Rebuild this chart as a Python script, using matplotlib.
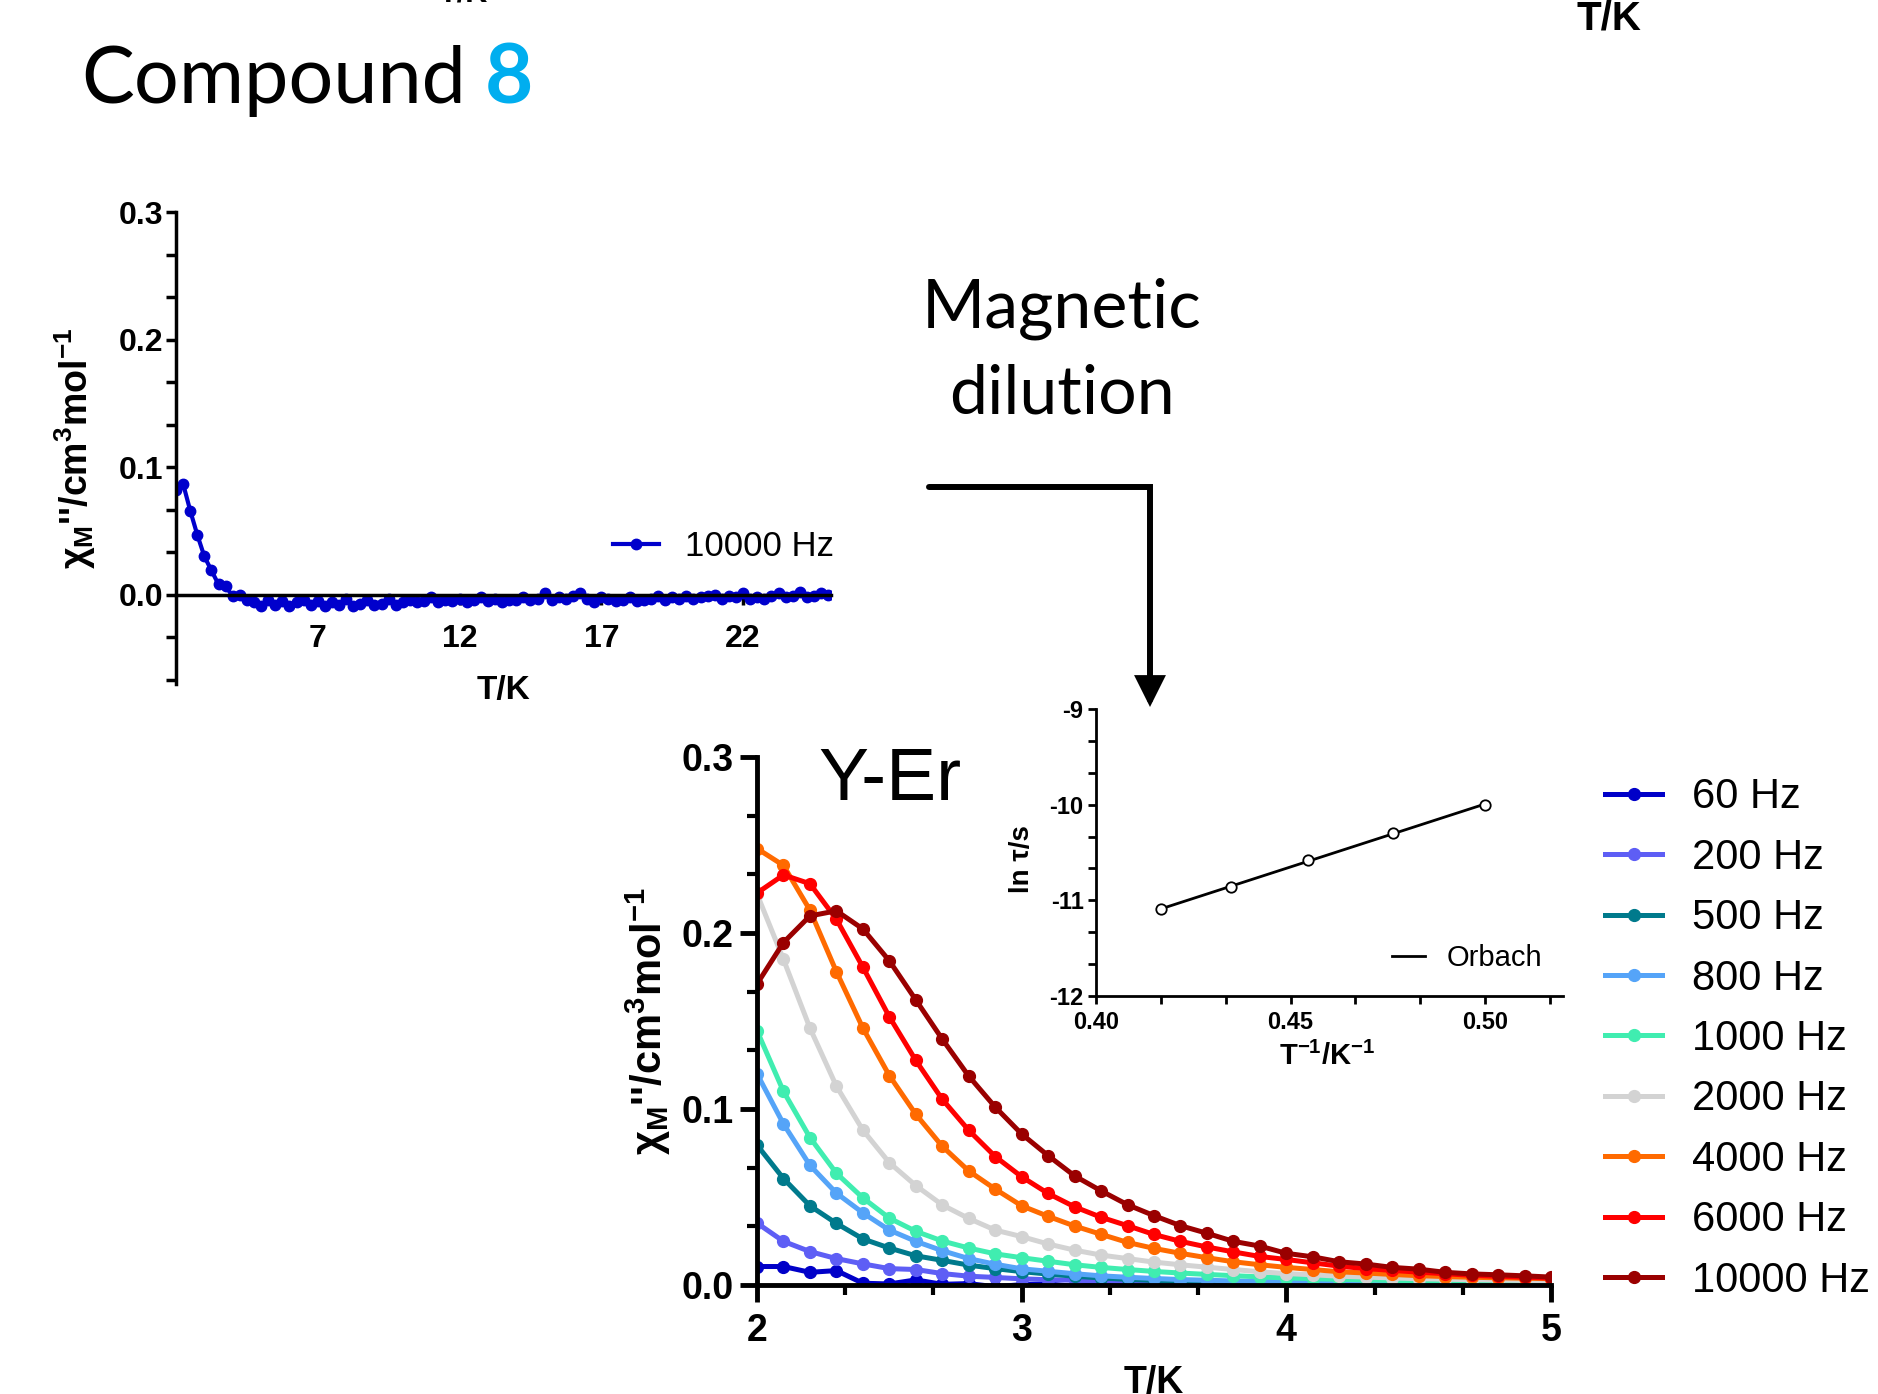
import numpy as np
import matplotlib
matplotlib.use("Agg")
import matplotlib.pyplot as plt
from matplotlib.patches import FancyArrowPatch
from matplotlib.path import Path
from matplotlib.ticker import MultipleLocator, FormatStrFormatter

plt.rcParams['font.family'] = ['Liberation Sans', 'DejaVu Sans']
plt.rcParams['axes.unicode_minus'] = False
plt.rcParams['mathtext.fontset'] = 'custom'
plt.rcParams['mathtext.rm'] = 'Liberation Sans'
plt.rcParams['mathtext.bf'] = 'Liberation Sans:bold'
plt.rcParams['mathtext.it'] = 'Liberation Sans:italic'

# ---- compound 8, chi'' at 10000 Hz (T from 2 K, 0.25 K steps)
chi_top = [0.082, 0.087, 0.066, 0.047, 0.030, 0.019, 0.008, 0.0065, -0.001, 0.000, -0.004, -0.006, -0.009,
           -0.004, -0.008, -0.005, -0.009, -0.006, -0.004, -0.008, -0.005, -0.009, -0.006, -0.008, -0.003,
           -0.009, -0.007, -0.004, -0.008, -0.007, -0.003, -0.008, -0.006, -0.004, -0.006, -0.005, -0.002,
           -0.006, -0.004, -0.005, -0.003,
           -0.006, -0.004, -0.002, -0.005, -0.003, -0.006, -0.004, -0.004, -0.002, -0.004, -0.003, 0.001,
           -0.004, -0.002, -0.003, -0.001, 0.001, -0.003, -0.006, -0.002, -0.003, -0.005, -0.004, -0.002,
           -0.005, -0.004, -0.003, -0.001, -0.004, -0.002, -0.003, -0.001, -0.003, -0.002, -0.001, 0.000,
           -0.003, -0.001, -0.002, 0.001, -0.003, -0.002, -0.003, -0.001, 0.001, -0.002, -0.001, 0.002,
           -0.002, -0.001, 0.001, 0.000]
T_top = 2 + 0.25 * np.arange(len(chi_top))

# ---- Y-Er diluted sample, T = 2.0 ... 5.0 K
T_yer = np.round(np.arange(2.0, 5.01, 0.1), 1)
freqs = ["60 Hz", "200 Hz", "500 Hz", "800 Hz", "1000 Hz", "2000 Hz", "4000 Hz", "6000 Hz", "10000 Hz"]
colors = ["#0000C8", "#5E5EF5", "#007A8C", "#55A4F8", "#40EDB0", "#D3D3D3", "#FF6A00", "#FF0000", "#9A0000"]

chi_60 = [0.0105, 0.0105, 0.0072, 0.0082, 0.0010, 0.0006, 0.0029, 0.0004, 0.0008, -0.0010, 0.0002,
          0.0006, -0.0008, 0.0004, 0.0001, -0.0006, 0.0003, -0.0004, 0.0002, 0.0005, -0.0007, 0.0001,
          -0.0003, 0.0004, 0.0000, -0.0005, 0.0002, -0.0002, 0.0001, 0.0003, 0.0001]
chi_200 = [0.0352, 0.0248, 0.0190, 0.0150, 0.0120, 0.0093, 0.0088, 0.0065, 0.0050, 0.0043, 0.0035,
           0.0030, 0.0027, 0.0022, 0.0020, 0.0016, 0.0015, 0.0012, 0.0011, 0.0009, 0.0008, 0.0007,
           0.0006, 0.0005, 0.0004, 0.0003, 0.0003, 0.0002, 0.0003, 0.0002, 0.0002]
chi_500 = [0.0795, 0.0605, 0.0450, 0.0350, 0.0262, 0.0210, 0.0166, 0.0140, 0.0113, 0.0093, 0.0076,
           0.0062, 0.0050, 0.0040, 0.0032, 0.0026, 0.0022, 0.0019, 0.0016, 0.0013, 0.0011, 0.0010,
           0.0009, 0.0008, 0.0007, 0.0006, 0.0005, 0.0005, 0.0004, 0.0004, 0.0003]
chi_800 = [0.1200, 0.0915, 0.0680, 0.0522, 0.0410, 0.0312, 0.0248, 0.0195, 0.0150, 0.0118, 0.0092,
           0.0078, 0.0064, 0.0052, 0.0044, 0.0037, 0.0031, 0.0027, 0.0023, 0.0020, 0.0018, 0.0015,
           0.0013, 0.0012, 0.0010, 0.0009, 0.0008, 0.0007, 0.0006, 0.0006, 0.0005]
chi_1000 = [0.1445, 0.1100, 0.0838, 0.0635, 0.0495, 0.0380, 0.0305, 0.0250, 0.0210, 0.0177, 0.0155,
            0.0135, 0.0115, 0.0100, 0.0088, 0.0077, 0.0068, 0.0060, 0.0053, 0.0046, 0.0040, 0.0036,
            0.0032, 0.0029, 0.0026, 0.0024, 0.0022, 0.0020, 0.0019, 0.0018, 0.0017]
chi_2000 = [0.2222, 0.1850, 0.1460, 0.1130, 0.0880, 0.0695, 0.0565, 0.0455, 0.0378, 0.0312, 0.0275,
            0.0233, 0.0198, 0.0170, 0.0150, 0.0130, 0.0115, 0.0101, 0.0088, 0.0075, 0.0065, 0.0058,
            0.0050, 0.0045, 0.0040, 0.0036, 0.0033, 0.0030, 0.0028, 0.0026, 0.0025]
chi_4000 = [0.2480, 0.2384, 0.2130, 0.1780, 0.1460, 0.1190, 0.0970, 0.0788, 0.0648, 0.0545, 0.0450,
            0.0390, 0.0335, 0.0288, 0.0242, 0.0208, 0.0180, 0.0155, 0.0132, 0.0115, 0.0100, 0.0088,
            0.0075, 0.0068, 0.0060, 0.0053, 0.0048, 0.0044, 0.0041, 0.0038, 0.0036]
chi_6000 = [0.2227, 0.2330, 0.2280, 0.2078, 0.1806, 0.1524, 0.1276, 0.1055, 0.0879, 0.0730, 0.0615,
            0.0520, 0.0444, 0.0385, 0.0337, 0.0287, 0.0248, 0.0216, 0.0188, 0.0162, 0.0145, 0.0126,
            0.0107, 0.0093, 0.0083, 0.0073, 0.0064, 0.0055, 0.0049, 0.0044, 0.0039]
chi_10000 = [0.1710, 0.1946, 0.2097, 0.2126, 0.2023, 0.1842, 0.1620, 0.1397, 0.1187, 0.1011, 0.0858,
             0.0735, 0.0620, 0.0535, 0.0456, 0.0394, 0.0337, 0.0294, 0.0248, 0.0221, 0.0180, 0.0160,
             0.0132, 0.0119, 0.0100, 0.0090, 0.0072, 0.0063, 0.0058, 0.0052, 0.0045]
series = [chi_60, chi_200, chi_500, chi_800, chi_1000, chi_2000, chi_4000, chi_6000, chi_10000]

# ---- Arrhenius inset
inv_T = [0.4167, 0.4348, 0.4545, 0.4762, 0.5000]
ln_tau = [-11.09, -10.86, -10.58, -10.30, -10.00]

W, H = 1878, 1394
fig = plt.figure(figsize=(W / 100, H / 100), dpi=100)
fig.patch.set_facecolor("white")


def fbox(x0, y0, x1, y1):
    # pixel box (origin top left) -> figure fraction rect
    return [x0 / W, 1 - y1 / H, (x1 - x0) / W, (y1 - y0) / H]


def fxy(x, y):
    return (x / W, 1 - y / H)


# ================= top left: compound 8 =================
ax1 = fig.add_axes(fbox(176, 212, 831, 684))
ax1.plot(T_top, chi_top, '-o', color="#0000CC", lw=3, ms=7.5, label="10000 Hz")
ax1.set_xlim(2, 25.1)
ax1.set_ylim(-0.07, 0.3)
for s in ['top', 'right']:
    ax1.spines[s].set_visible(False)
ax1.spines['bottom'].set_position(('data', 0))
ax1.spines['left'].set_linewidth(2.5)
ax1.spines['bottom'].set_linewidth(2.5)
ax1.set_xticks([7, 12, 17, 22])
ax1.yaxis.set_minor_locator(MultipleLocator(0.1 / 3))
ax1.set_yticks([0.0, 0.1, 0.2, 0.3])
ax1.yaxis.set_major_formatter(FormatStrFormatter('%.1f'))
ax1.tick_params(axis='both', which='both', direction='out', width=2.5, length=7)
ax1.tick_params(axis='x', pad=14)
ax1.tick_params(axis='y', pad=2)
for lab in ax1.get_xticklabels() + ax1.get_yticklabels():
    lab.set_fontsize(23)
    lab.set_fontweight('bold')
ax1.set_xlabel("T/K", fontsize=24, fontweight='bold')
ax1.xaxis.set_label_coords(0.5, 0.02)
ax1.set_ylabel("χ$_\\mathbf{M}$''/cm$^\\mathbf{3}$mol$^\\mathbf{-1}$", fontsize=27, fontweight='bold')
ax1.yaxis.set_label_coords(-0.119, 0.5)
ax1.legend(loc='center left', bbox_to_anchor=fxy(613, 547), bbox_transform=fig.transFigure,
           frameon=False, fontsize=25, handlelength=1.33, handletextpad=0.75,
           borderpad=0, borderaxespad=0)

# ================= main: Y-Er =================
ax2 = fig.add_axes(fbox(757, 757, 1551, 1285))
handles = []
for vals, c, lab in zip(series, colors, freqs):
    h, = ax2.plot(T_yer, vals, '-o', color=c, lw=3.6, ms=8.5, label=lab)
    handles.append(h)
ax2.set_xlim(2, 5)
ax2.set_ylim(0, 0.3)
for s in ['top', 'right']:
    ax2.spines[s].set_visible(False)
for s in ['left', 'bottom']:
    ax2.spines[s].set_linewidth(3.5)
ax2.xaxis.set_major_locator(MultipleLocator(1))
ax2.xaxis.set_minor_locator(MultipleLocator(1 / 3))
ax2.yaxis.set_major_locator(MultipleLocator(0.1))
ax2.yaxis.set_minor_locator(MultipleLocator(0.1 / 3))
ax2.yaxis.set_major_formatter(FormatStrFormatter('%.1f'))
ax2.tick_params(axis='both', which='major', direction='out', width=3.5, length=12, labelsize=27)
ax2.tick_params(axis='both', which='minor', direction='out', width=3, length=7)
ax2.tick_params(axis='x', pad=8)
ax2.tick_params(axis='y', pad=5)
for lab in ax2.get_xticklabels() + ax2.get_yticklabels():
    lab.set_fontweight('bold')
ax2.set_xlabel("T/K", fontsize=27, fontweight='bold')
ax2.xaxis.set_label_coords(0.5, -0.152)
ax2.set_ylabel("χ$_\\mathbf{M}$''/cm$^\\mathbf{3}$mol$^\\mathbf{-1}$", fontsize=30, fontweight='bold')
ax2.yaxis.set_label_coords(-0.106, 0.5)
ax2.text((818 - 757) / 794, (1285 - 800) / 528, "Y-Er", transform=ax2.transAxes,
         fontsize=54, va='baseline', ha='left')

fig.legend(handles, freqs, loc='center left', bbox_to_anchor=fxy(1605, 1039),
           frameon=False, fontsize=30, handlelength=1.37, handletextpad=0.72,
           labelspacing=0.49, borderpad=0, borderaxespad=0)

# ================= inset: ln tau vs 1/T =================
ax3 = fig.add_axes(fbox(1096, 709, 1563, 996))
ax3.set_facecolor('none')
coef = np.polyfit(inv_T, ln_tau, 1)
xfit = np.array([min(inv_T), max(inv_T)])
ax3.plot(xfit, np.polyval(coef, xfit), color='black', lw=2, label='Orbach')
ax3.plot(inv_T, ln_tau, 'o', mfc='white', mec='black', ms=7.5, mew=1.3)
ax3.set_xlim(0.40, 0.52)
ax3.set_ylim(-12, -9)
for s in ['top', 'right']:
    ax3.spines[s].set_visible(False)
for s in ['left', 'bottom']:
    ax3.spines[s].set_linewidth(2)
ax3.xaxis.set_major_locator(MultipleLocator(0.05))
ax3.xaxis.set_minor_locator(MultipleLocator(0.05 / 3))
ax3.yaxis.set_major_locator(MultipleLocator(1))
ax3.yaxis.set_minor_locator(MultipleLocator(1 / 3))
ax3.xaxis.set_major_formatter(FormatStrFormatter('%.2f'))
ax3.yaxis.set_major_formatter(FormatStrFormatter('%d'))
ax3.tick_params(axis='both', which='both', direction='out', width=2, length=6, labelsize=17)
ax3.tick_params(axis='x', pad=5)
ax3.tick_params(axis='y', pad=3)
for lab in ax3.get_xticklabels() + ax3.get_yticklabels():
    lab.set_fontweight('bold')
ax3.set_xlabel("T$^\\mathbf{-1}$/K$^\\mathbf{-1}$", fontsize=21, fontweight='bold')
ax3.xaxis.set_label_coords(0.495, -0.16)
ax3.set_ylabel("ln τ/s", fontsize=20, fontweight='bold')
ax3.yaxis.set_label_coords(-0.13, 0.477)
ax3.legend(loc='center left', bbox_to_anchor=fxy(1392, 958), bbox_transform=fig.transFigure,
           frameon=False, fontsize=21, handlelength=1.14, handletextpad=0.72,
           borderpad=0, borderaxespad=0)

# ================= free text and arrow =================
calibri = ['Lato', 'Open Sans', 'DejaVu Sans']
fig.text(*fxy(81, 103), "Compound", fontsize=57, family=calibri, va='baseline', ha='left')
fig.text(*fxy(485, 103), "8", fontsize=60, family=calibri, fontweight='bold',
         color='#00AEEF', va='baseline', ha='left')
fig.text(*fxy(1062, 327), "Magnetic", fontsize=49, family=calibri, va='baseline', ha='center')
fig.text(*fxy(1062, 414), "dilution", fontsize=49, family=calibri, va='baseline', ha='center')

fig.text(*fxy(1609, 18), "T/K", fontsize=29, fontweight='bold', ha='center', va='center')
fig.text(*fxy(463, 2), "T/K", fontsize=22, fontweight='bold', ha='center', va='baseline')

arrow_path = Path([fxy(929, 487), fxy(1150, 487), fxy(1150, 707)],
                  [Path.MOVETO, Path.LINETO, Path.LINETO])
arrow = FancyArrowPatch(path=arrow_path, arrowstyle='-|>', mutation_scale=40, lw=4.3,
                        color='black', joinstyle='miter', transform=fig.transFigure)
fig.add_artist(arrow)

fig.savefig("out.png", dpi=100)
